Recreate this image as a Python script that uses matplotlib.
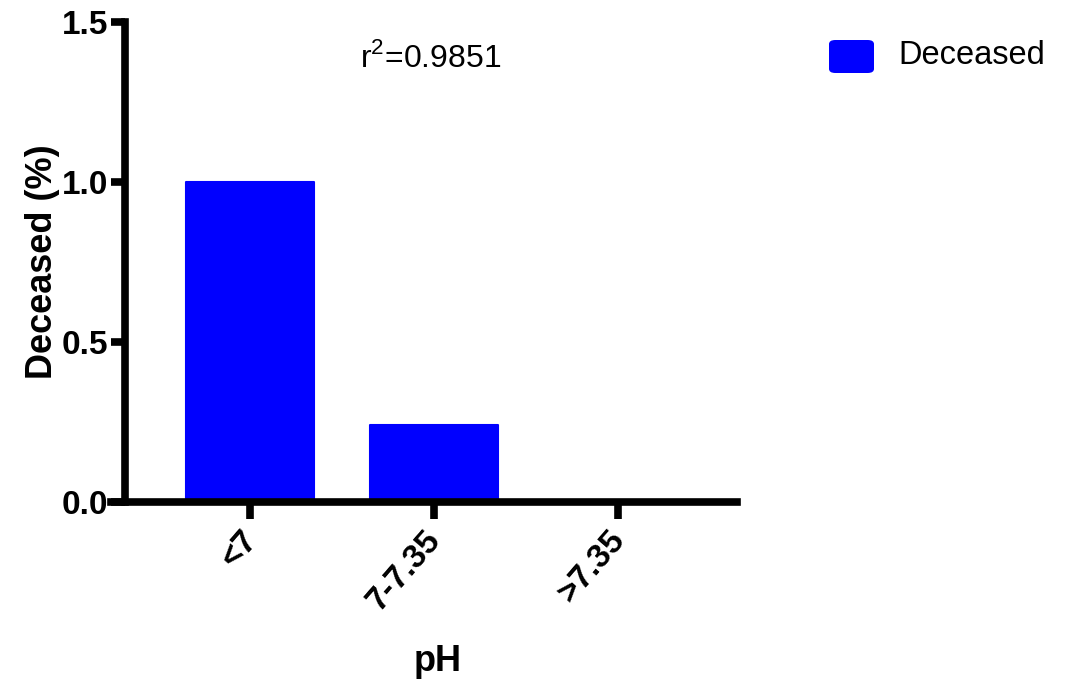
import matplotlib
matplotlib.use('Agg')
import matplotlib.pyplot as plt
import matplotlib.transforms as mtransforms
from matplotlib.patches import FancyBboxPatch

categories = ['<7', '7-7.35', '>7.35']
deceased = [1.0, 0.24, 0.0]
y_ticks = [0.0, 0.5, 1.0, 1.5]
r2_text = 'r$^2$=0.9851'
series_name = 'Deceased'

plt.rcParams['font.family'] = ['Liberation Sans', 'DejaVu Sans']
plt.rcParams['mathtext.fontset'] = 'custom'
plt.rcParams['mathtext.rm'] = 'Liberation Sans'

bar_color = '#0000ff'
lw = 5.5

fig = plt.figure(figsize=(10.71, 6.83), dpi=100)
ax = fig.add_axes([111/1071, 1-502/683, (737-111)/1071, 480/683])

x = list(range(len(categories)))
bars = ax.bar(x, deceased, width=0.7, color=bar_color, edgecolor=bar_color,
              linewidth=1.5, joinstyle='round', zorder=2)

ax.set_xlim(-0.757, 2.65)
ax.set_ylim(0, 1.5)

ax.spines['top'].set_visible(False)
ax.spines['right'].set_visible(False)
ax.spines['left'].set_position(('data', -0.68))
ax.spines['left'].set_linewidth(lw)
ax.spines['bottom'].set_linewidth(lw)

ax.set_yticks(y_ticks)
ax.set_yticklabels(['%.1f' % v for v in y_ticks], fontsize=24, fontweight='bold')
ax.set_xticks(x)
ax.set_xticklabels(categories, fontsize=24, fontweight='bold', rotation=49,
                   ha='right', va='top', rotation_mode='anchor')
ax.tick_params(axis='y', length=10, width=lw, pad=2)
ax.tick_params(axis='x', length=12, width=lw, pad=8)
# nudge the rotated labels left/up a little
shift = mtransforms.ScaledTranslation(-0.10, 0.05, fig.dpi_scale_trans)
for lab in ax.get_xticklabels():
    lab.set_transform(lab.get_transform() + shift)

ax.set_ylabel('Deceased (%)', fontsize=26, fontweight='bold', va='center')
ax.yaxis.set_label_coords(-0.11, 0.5)
ax.set_xlabel('pH', fontsize=26, fontweight='bold', va='center')
ax.xaxis.set_label_coords(0.521, -0.333)

ax.text(0.51, 0.925, r2_text, transform=ax.transAxes, ha='center', va='center',
        fontsize=23)

# legend drawn by hand to match the rounded swatch
fig.patches.append(FancyBboxPatch((829/1071, 1-73/683), 45/1071, 33/683,
                                  boxstyle='round,pad=0,rounding_size=0.006',
                                  transform=fig.transFigure, facecolor=bar_color,
                                  edgecolor='none'))
fig.text(898/1071, 1-56/683, series_name, ha='left', va='center', fontsize=23.5)

fig.savefig('out.png', dpi=100)
